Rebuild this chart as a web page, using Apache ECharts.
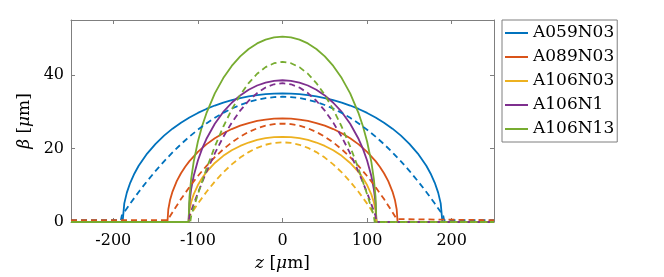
<!DOCTYPE html>
<html>
<head>
<meta charset="utf-8">
<script src="https://cdn.jsdelivr.net/npm/echarts@6/dist/echarts.min.js"></script>
<style>html,body{margin:0;padding:0;background:#fff;}#chart{width:664px;height:277px;}</style>
</head>
<body>
<div id="chart"></div>
<script>
// ---- data ----
const seriesNames = ['A059N03', 'A089N03', 'A106N03', 'A106N1', 'A106N13'];
const seriesColors = ['#0072BD', '#D95319', '#EDB120', '#7E2F8E', '#77AC30'];
const zTicks = [-200, -100, 0, 100, 200];
const betaTicks = [0, 20, 40];

// A059N03 solid
const zA059Solid = [-250,-189,-187,-184,-180,-175,-170,-160,-150,-140,-130,-120,-110,-100,-90,-80,-70,-60,-50,-40,-30,-20,-10,0,10,20,30,40,50,60,70,80,90,100,110,120,130,140,150,160,170,175,180,184,187,189,250];
const bA059Solid = [0,0,5.07,8.00,10.67,13.22,15.30,18.63,21.29,23.51,25.41,27.04,28.46,29.70,30.78,31.71,32.51,33.19,33.75,34.21,34.56,34.80,34.95,35.00,34.95,34.80,34.56,34.21,33.75,33.19,32.51,31.71,30.78,29.70,28.46,27.04,25.41,23.51,21.29,18.63,15.30,13.22,10.67,8.00,5.07,0,0];
// A059N03 dashed
const zA059Dash = [-250,-191,-190,-180,-170,-160,-150,-140,-130,-120,-110,-100,-90,-80,-70,-60,-50,-40,-30,-20,-10,0,10,20,30,40,50,60,70,80,90,100,110,120,130,140,150,160,170,180,190,191,250];
const bA059Dash = [0.5,0.5,1.73,5.04,8.18,11.14,13.92,16.52,18.94,21.19,23.25,25.13,26.84,28.36,29.71,30.87,31.86,32.67,33.29,33.74,34.01,34.10,34.01,33.74,33.29,32.67,31.86,30.87,29.71,28.36,26.84,25.13,23.25,21.19,18.94,16.52,13.92,11.14,8.18,5.04,1.73,0.5,0.5];

// A089N03 solid
const zA089Solid = [-250,-136,-135,-133,-130,-125,-120,-115,-110,-100,-90,-80,-70,-60,-50,-40,-30,-20,-10,0,10,20,30,40,50,60,70,80,90,100,110,115,120,125,130,133,135,136,250];
const bA089Solid = [0,0,3.41,5.89,8.28,11.11,13.27,15.05,16.58,19.11,21.14,22.81,24.18,25.31,26.23,26.95,27.51,27.89,28.12,28.20,28.12,27.89,27.51,26.95,26.23,25.31,24.18,22.81,21.14,19.11,16.58,15.05,13.27,11.11,8.28,5.89,3.41,0,0];
// A089N03 dashed
const zA089Dash = [-250,-136,-135,-130,-120,-110,-100,-90,-80,-70,-60,-50,-40,-30,-20,-10,0,10,20,30,40,50,60,70,80,90,100,110,120,130,135,136,250];
const bA089Dash = [0.5,0.5,0.78,2.67,6.24,9.52,12.52,15.23,17.66,19.80,21.66,23.23,24.52,25.51,26.23,26.66,26.80,26.66,26.23,25.51,24.52,23.23,21.66,19.80,17.66,15.23,12.52,9.52,6.24,2.67,0.78,0.5,0.5];

// A106N03 solid
const zA106N03Solid = [-250,-111,-110,-108,-105,-100,-95,-90,-80,-70,-60,-50,-40,-30,-20,-10,0,10,20,30,40,50,60,70,80,90,95,100,105,108,110,111,250];
const bA106N03Solid = [0,0,3.11,5.36,7.52,10.07,12.00,13.58,16.08,18.01,19.52,20.71,21.64,22.34,22.82,23.11,23.20,23.11,22.82,22.34,21.64,20.71,19.52,18.01,16.08,13.58,12.00,10.07,7.52,5.36,3.11,0,0];
// A106N03 dashed
const zA106N03Dash = [-250,-111,-110,-105,-100,-90,-80,-70,-60,-50,-40,-30,-20,-10,0,10,20,30,40,50,60,70,80,90,100,105,110,111,250];
const bA106N03Dash = [0,0,1.50,3.29,5.00,8.18,11.01,13.52,15.69,17.53,19.03,20.20,21.03,21.53,21.70,21.53,21.03,20.20,19.03,17.53,15.69,13.52,11.01,8.18,5.00,3.29,1.50,0,0];

// A106N1 solid
const zA106N1Solid = [-250,-111,-110,-108,-105,-100,-95,-90,-80,-70,-60,-50,-40,-30,-20,-10,0,10,20,30,40,50,60,70,80,90,95,100,105,108,110,111,250];
const bA106N1Solid = [0,0,5.17,8.91,12.52,16.75,19.97,22.59,26.76,29.96,32.47,34.46,36.01,37.16,37.97,38.44,38.60,38.44,37.97,37.16,36.01,34.46,32.47,29.96,26.76,22.59,19.97,16.75,12.52,8.91,5.17,0,0];
// A106N1 dashed
const zA106N1Dash = [-250,-111,-110,-105,-100,-90,-80,-70,-60,-50,-40,-30,-20,-10,0,10,20,30,40,50,60,70,80,90,100,105,110,111,250];
const bA106N1Dash = [0,0,1.66,4.87,7.93,13.61,18.69,23.17,27.05,30.33,33.02,35.11,36.61,37.50,37.80,37.50,36.61,35.11,33.02,30.33,27.05,23.17,18.69,13.61,7.93,4.87,1.66,0,0];

// A106N13 solid
const zA106N13Solid = [-250,-111,-110,-108,-105,-100,-95,-90,-80,-70,-60,-50,-40,-30,-20,-10,0,10,20,30,40,50,60,70,80,90,95,100,105,108,110,111,250];
const bA106N13Solid = [0,0,6.76,11.66,16.38,21.92,26.12,29.56,35.01,39.19,42.49,45.09,47.11,48.62,49.67,50.29,50.50,50.29,49.67,48.62,47.11,45.09,42.49,39.19,35.01,29.56,26.12,21.92,16.38,11.66,6.76,0,0];
// A106N13 dashed
const zA106N13Dash = [-250,-109,-108,-105,-100,-90,-80,-70,-60,-50,-40,-30,-20,-10,0,10,20,30,40,50,60,70,80,90,100,105,108,109,250];
const bA106N13Dash = [0,0,1.57,3.87,7.57,14.41,20.54,25.94,30.63,34.59,37.83,40.36,42.16,43.24,43.60,43.24,42.16,40.36,37.83,34.59,30.63,25.94,20.54,14.41,7.57,3.87,1.57,0,0];

const solidData = [
  [zA059Solid, bA059Solid], [zA089Solid, bA089Solid], [zA106N03Solid, bA106N03Solid],
  [zA106N1Solid, bA106N1Solid], [zA106N13Solid, bA106N13Solid]
];
const dashData = [
  [zA059Dash, bA059Dash], [zA089Dash, bA089Dash], [zA106N03Dash, bA106N03Dash],
  [zA106N1Dash, bA106N1Dash], [zA106N13Dash, bA106N13Dash]
];

// ---- chart ----
const FONT = 'DejaVu Serif';
const AXIS_COLOR = '#7f7f7f';
const zip = (a, b) => a.map((v, i) => [v, b[i]]);

const series = [];
solidData.forEach((d, i) => {
  series.push({
    name: seriesNames[i], type: 'line', data: zip(d[0], d[1]),
    symbol: 'none', showSymbol: false, clip: true,
    lineStyle: { color: seriesColors[i], width: 1.8, type: 'solid' },
    itemStyle: { color: seriesColors[i] }, z: 3
  });
});
dashData.forEach((d, i) => {
  series.push({
    name: seriesNames[i] + ' (dashed)', type: 'line', data: zip(d[0], d[1]),
    symbol: 'none', showSymbol: false, clip: true,
    lineStyle: { color: seriesColors[i], width: 1.8, type: [6, 4] },
    itemStyle: { color: seriesColors[i] }, z: 3
  });
});

const richItalic = { i: { fontStyle: 'italic', fontFamily: FONT, fontSize: 17, color: '#000' } };

const option = {
  animation: false,
  backgroundColor: '#fff',
  grid: { left: 71, top: 20, width: 423, height: 203, containLabel: false },
  legend: {
    data: seriesNames.map(n => ({ name: n, icon: 'rect' })),
    orient: 'vertical', left: 502, top: 20,
    padding: [3, 3, 3, 3],
    itemGap: 4, itemWidth: 23, itemHeight: 2,
    backgroundColor: '#fff', borderColor: AXIS_COLOR, borderWidth: 1,
    textStyle: { fontFamily: FONT, fontSize: 17, color: '#000', lineHeight: 20 },
    selectedMode: false
  },
  xAxis: [
    {
      type: 'value', min: -250, max: 250, position: 'bottom',
      axisLine: { show: true, onZero: false, lineStyle: { color: AXIS_COLOR, width: 1 } },
      axisTick: { show: true, inside: true, length: 4, customValues: zTicks, lineStyle: { color: AXIS_COLOR } },
      axisLabel: { customValues: zTicks, margin: 11, color: '#000', fontFamily: FONT, fontSize: 16 },
      splitLine: { show: false },
      name: '{i|z} [{i|μ}m]', nameLocation: 'middle', nameGap: 33,
      nameTextStyle: { fontFamily: FONT, fontSize: 17, color: '#000', rich: richItalic }
    },
    {
      type: 'value', min: -250, max: 250, position: 'top',
      axisLine: { show: true, onZero: false, lineStyle: { color: AXIS_COLOR, width: 1 } },
      axisTick: { show: true, inside: true, length: 4, customValues: zTicks, lineStyle: { color: AXIS_COLOR } },
      axisLabel: { show: false },
      splitLine: { show: false }
    }
  ],
  yAxis: [
    {
      type: 'value', min: 0, max: 55, position: 'left',
      axisLine: { show: true, onZero: false, lineStyle: { color: AXIS_COLOR, width: 1 } },
      axisTick: { show: true, inside: true, length: 4, customValues: betaTicks, lineStyle: { color: AXIS_COLOR } },
      axisLabel: { customValues: betaTicks, margin: 7, color: '#000', fontFamily: FONT, fontSize: 16 },
      splitLine: { show: false },
      name: '{i|β} [{i|μ}m]', nameLocation: 'middle', nameGap: 30, nameRotate: 90,
      nameTextStyle: { fontFamily: FONT, fontSize: 17, color: '#000', rich: richItalic }
    },
    {
      type: 'value', min: 0, max: 55, position: 'right',
      axisLine: { show: true, onZero: false, lineStyle: { color: AXIS_COLOR, width: 1 } },
      axisTick: { show: true, inside: true, length: 4, customValues: betaTicks, lineStyle: { color: AXIS_COLOR } },
      axisLabel: { show: false },
      splitLine: { show: false }
    }
  ],
  series: series
};

const chart = echarts.init(document.getElementById('chart'), null, { renderer: 'canvas' });
chart.setOption(option);
</script>
</body>
</html>
